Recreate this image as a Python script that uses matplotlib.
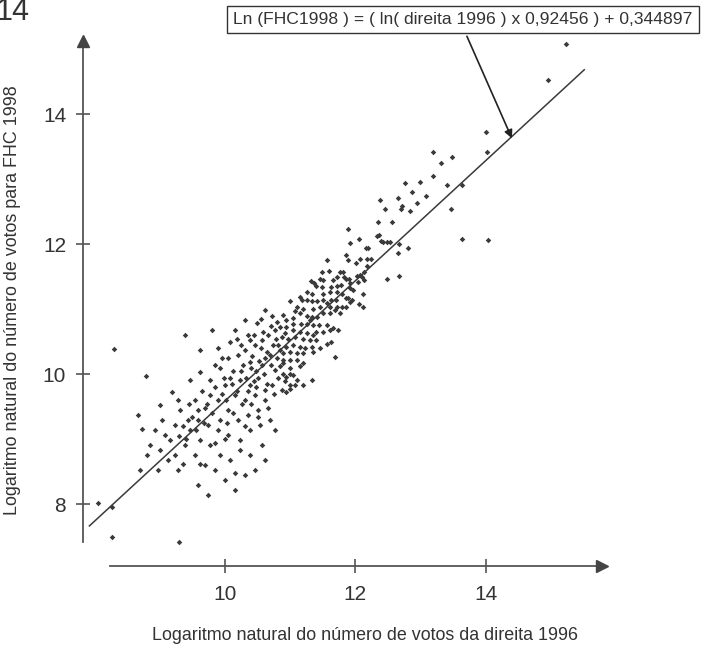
import matplotlib
matplotlib.use("Agg")
import matplotlib.pyplot as plt
import numpy as np

plt.rcParams['font.family'] = ['Liberation Sans', 'DejaVu Sans']

# ---- data ----
x_ticks = [10, 12, 14]
y_ticks = [8, 10, 12, 14]
slope = 0.92456
intercept = 0.344897
line_x = [7.92, 15.51]
equation = "Ln (FHC1998 ) = ( ln( direita 1996 ) x 0,92456 ) + 0,344897"
x_label = "Logaritmo natural do número de votos da direita 1996"
y_label = "Logaritmo natural do número de votos para FHC 1998"

pts_right = [
 (12.46,12.54),(12.70,12.54),(12.72,12.59),(12.83,12.51),(12.94,12.64),(13.46,12.54),
 (12.35,12.35),(12.56,12.35),(11.89,12.24),(12.36,12.15),(12.33,12.13),(12.40,12.05),
 (12.43,12.03),(12.49,12.03),(12.53,12.03),(12.67,12.01),(12.05,12.08),(11.91,12.02),
 (12.66,11.87),(12.80,11.95),(12.20,11.95),(12.17,11.95),(12.24,11.77),(12.18,11.78),
 (11.86,11.84),(11.89,11.76),(12.07,11.77),(12.01,11.71),(11.57,11.76),(12.18,11.66),
 (12.13,11.58),(11.81,11.58),(11.77,11.58),(11.48,11.57),(11.59,11.59),(11.83,11.50),
 (11.85,11.46),(11.90,11.47),(11.71,11.49),(12.02,11.51),(12.07,11.53),(12.10,11.49),
 (12.13,11.45),(12.04,11.42),(11.32,11.44),(11.36,11.41),(11.45,11.46),(11.50,11.45),
 (11.66,11.45),(11.39,11.36),(11.49,11.34),(11.62,11.34),(11.71,11.36),(11.78,11.38),
 (11.92,11.40),(11.96,11.29),(11.91,11.32),(11.26,11.27),(11.33,11.24),(11.50,11.24),
 (11.61,11.27),(11.72,11.27),(11.79,11.23),(11.85,11.18),(11.94,11.14),(11.92,11.11),
 (12.06,11.08),(12.12,11.03),(12.11,11.24),(11.88,11.18),(11.70,11.14),(11.63,11.14),
 (11.56,11.09),(11.50,11.14),(11.41,11.13),(11.34,11.12),(11.25,11.14),(11.18,11.14),
 (11.15,11.19),(11.10,11.03),(10.99,11.12),(11.07,10.98),(11.20,11.01),(11.35,11.01),
 (11.45,11.03),(11.61,11.03),(11.71,11.04),(11.80,11.04),(11.86,11.04),(11.76,10.94),
 (11.68,10.99),(11.61,10.94),(11.50,10.94),(11.41,10.88),(11.33,10.88),(11.30,10.83),
 (11.25,10.89),(11.15,10.94),(11.04,10.86),(10.94,10.83),(10.89,10.91),(10.84,10.73),
 (10.94,10.73),(11.04,10.78),(11.16,10.77),(11.25,10.78),(11.35,10.76),(11.44,10.76),
 (11.56,10.76),(11.66,10.71),(11.73,10.68),(11.61,10.68),(11.50,10.65),(11.40,10.65),
 (11.35,10.60),(11.25,10.63),(11.15,10.65),(11.04,10.68),(10.92,10.63),(10.87,10.58),
 (10.97,10.55),(11.07,10.58),(11.20,10.55),(11.30,10.53),(11.40,10.53),(11.56,10.46),
 (11.63,10.50),(11.45,10.40),(11.33,10.42),(11.22,10.40),(11.15,10.42),(11.04,10.45),
 (10.94,10.42),(10.84,10.37),(10.89,10.32),(10.99,10.35),(11.10,10.32),(11.20,10.32),
 (11.35,10.35),(11.68,10.27),(10.99,10.22),(10.89,10.22),(11.10,10.22),(11.20,10.17),
 (11.15,10.13),(10.84,10.12),(10.99,10.09),(10.89,10.01),(10.99,10.01),(11.04,9.99),
 (11.10,9.91),(10.94,9.96),(10.92,9.89),(10.99,9.83),(11.07,9.83),(11.20,9.83),
 (11.33,9.91),(10.87,9.76),(10.94,9.73),(10.99,9.78),(13.63,12.08),(12.48,11.46),
 (12.67,11.51),(10.89,10.17),
 (15.23,15.08),(14.95,14.53),(14.00,13.72),(14.02,13.42),(14.03,12.07),(13.19,13.42),
 (13.31,13.25),(13.48,13.34),(13.40,12.91),(13.63,12.91),(13.19,13.05),(12.99,12.96),
 (12.87,12.81),(12.76,12.94),(12.65,12.71),(13.08,12.75),(12.38,12.68),
]
pts_left = [
 (9.89,10.41),(9.95,10.25),(9.85,10.14),(10.08,10.50),(10.20,10.30),(10.31,10.37),
 (10.38,10.19),(10.46,10.45),(10.57,10.53),(10.66,10.61),(10.77,10.68),(10.49,10.79),
 (10.61,10.99),(10.31,10.84),(10.15,10.68),(10.35,10.61),(10.69,10.30),(10.57,10.14),
 (10.77,10.07),(10.51,9.95),(10.38,9.84),(10.23,9.91),(10.08,9.95),(10.00,9.84),
 (10.15,9.68),(10.31,9.60),(10.46,9.68),(10.61,9.76),(10.72,9.84),(10.81,9.95),
 (10.66,9.48),(10.51,9.45),(10.35,9.37),(10.20,9.30),(10.05,9.45),(9.89,9.60),
 (9.77,9.68),(9.69,9.48),(9.59,9.30),(9.74,9.22),(9.89,9.14),(10.05,9.07),(10.23,8.99),
 (10.38,9.14),(10.54,9.22),(10.69,9.30),(10.77,9.14),(10.57,8.91),(10.38,8.76),
 (10.23,8.84),(10.08,8.68),(9.92,8.76),(9.77,8.91),(9.62,8.99),(9.46,9.14),(9.39,8.91),
 (9.54,8.76),(9.69,8.60),(9.85,8.53),(10.00,8.37),(10.15,8.22),(10.46,8.53),(10.31,8.45),
 (10.61,8.68),(9.31,9.45),(9.23,9.22),(9.16,8.99),(9.08,9.07),(9.00,8.84),(9.13,8.68),
 (9.28,8.53),(9.59,8.30),(9.74,8.14),(9.23,8.76),(8.93,9.14),(8.85,8.91),(8.80,8.76),
 (8.70,8.53),(8.67,9.37),(8.73,9.16),(8.79,9.97),(8.30,10.39),(9.39,10.60),(9.46,9.91),
 (9.62,10.04),(9.77,9.91),(9.19,9.73),(9.28,9.60),(9.00,9.53),(9.03,9.30),(9.54,9.60),
 (9.43,9.30),(9.62,10.37),(9.80,10.68),
 (8.05,8.02),(8.27,7.96),(8.27,7.50),(9.29,7.42),(8.97,8.53),(9.36,8.62),(9.62,8.62),
 (10.15,8.48),
 (9.95,9.70),(10.02,9.60),(10.10,9.85),(10.18,9.75),(10.25,10.05),(10.32,9.95),
 (10.40,10.10),(10.45,9.90),(10.52,10.20),(10.60,10.00),(10.65,10.35),(10.70,10.15),
 (10.74,10.45),(10.80,10.25),(10.55,10.40),(10.42,10.28),(10.28,10.15),(10.12,10.05),
 (9.98,9.95),(9.85,9.80),(9.72,9.55),(9.65,9.75),(9.58,9.45),(9.50,9.35),(9.45,9.55),
 (9.35,9.20),(9.30,9.05),(9.40,9.00),(9.55,9.15),(9.68,9.25),(9.80,9.40),(9.93,9.30),
 (10.03,9.25),(10.12,9.40),(10.26,9.55),(10.40,9.55),(10.48,9.80),(10.62,9.60),
 (10.75,9.70),(10.82,10.45),(10.70,10.75),(10.58,10.65),(10.45,10.60),(10.38,10.52),
 (10.25,10.45),(10.05,10.25),(9.92,10.10),(10.18,10.55),(10.55,10.85),(10.72,10.90),
 (10.80,10.80),(10.65,9.85),(10.50,9.35),(10.30,9.20),(10.00,9.00),(9.85,8.95),
 (10.35,9.75),(10.78,10.55),(10.62,10.25),(10.48,10.05),
]
pts = pts_right + pts_left
xs = [p[0] for p in pts]
ys = [p[1] for p in pts]

# ---- figure ----
fig = plt.figure(figsize=(7.06, 6.49), dpi=100)
ax = fig.add_axes([0, 0, 1, 1])
ax.set_xlim(6.549, 17.377)
ax.set_ylim(5.774, 15.758)

col = '#3a3a3a'
ax.scatter(xs, ys, s=8, marker='D', color=col, linewidths=0, zorder=3)
lx = np.array(line_x)
ax.plot(lx, slope * lx + intercept, color='#3a3a3a', lw=1.1, zorder=2)

# axes
for s in ['top', 'right']:
    ax.spines[s].set_visible(False)
ax.spines['left'].set_position(('data', 7.82))
ax.spines['left'].set_bounds(7.42, 15.05)
ax.spines['bottom'].set_position(('data', 7.05))
ax.spines['bottom'].set_bounds(8.24, 15.75)
for s in ['left', 'bottom']:
    ax.spines[s].set_color('#555555')
    ax.spines[s].set_linewidth(1.3)
ax.plot([7.82], [15.12], marker='^', color='#444444', markersize=8, clip_on=False, zorder=4)
ax.plot([15.78], [7.05], marker='>', color='#444444', markersize=8, clip_on=False, zorder=4)

ax.set_xticks(x_ticks)
ax.set_yticks(y_ticks)
ax.set_xticklabels([str(t) for t in x_ticks])
ax.set_yticklabels([str(t) for t in y_ticks])
ax.tick_params(direction='inout', length=10, width=1.2, color='#555555',
               labelsize=15, labelcolor='#333333')
ax.tick_params(axis='x', pad=9)
ax.tick_params(axis='y', pad=7)

fig.text(365 / 706, 1 - 636 / 649, x_label, ha='center', va='center',
         fontsize=12.9, color='#333333')
fig.text(13 / 706, 1 - 300 / 649, y_label, ha='center', va='center',
         rotation=90, fontsize=12.9, color='#333333')

# equation box with arrow
ax.annotate('', xy=(14.40, 13.63), xytext=(13.71, 15.20),
            arrowprops=dict(arrowstyle='-|>', color='#222222', lw=1.2,
                            mutation_scale=12, shrinkA=0, shrinkB=0), zorder=5)
ax.text(13.65, 15.46, equation, ha='center', va='center', fontsize=12.6,
        color='#333333', zorder=6,
        bbox=dict(boxstyle='square,pad=0.35', fc='white', ec='#333333', lw=1.0))

fig.text(-4 / 706, 1 - 20 / 649, '14', ha='left', va='baseline',
         fontsize=22, color='#333333')

fig.savefig('out.png', dpi=100)
